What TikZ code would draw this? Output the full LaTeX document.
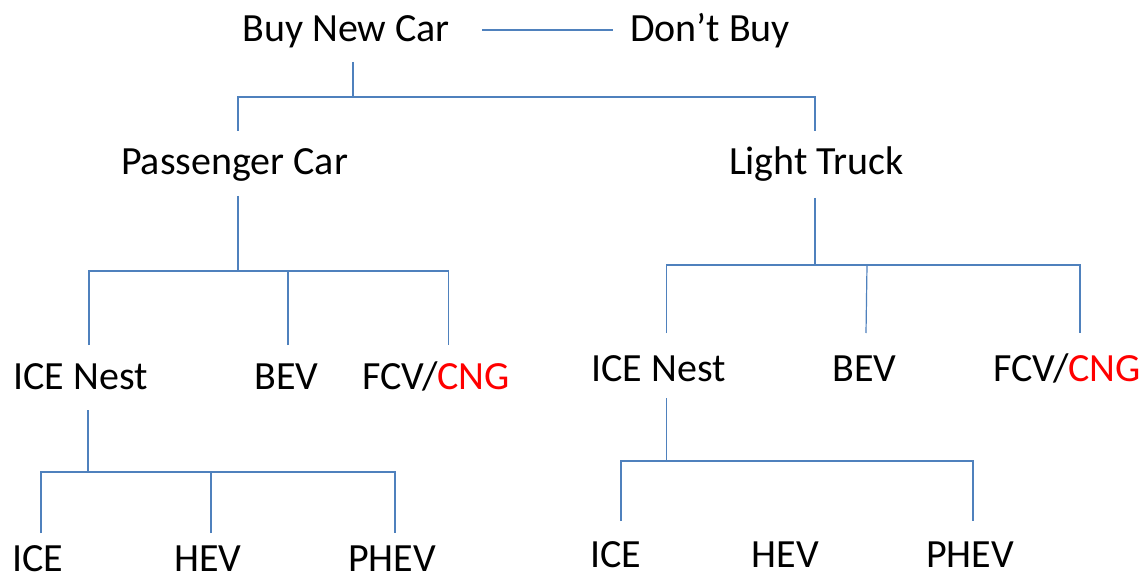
\documentclass[tikz,border=0pt]{standalone}
\usepackage{fontspec}
\setmainfont{Carlito}
\definecolor{linkblue}{HTML}{4F81BD}
\definecolor{cngred}{HTML}{FF0000}
\begin{document}
\begin{tikzpicture}[x=1pt,y=-1pt,
  lbl/.style={inner sep=0pt,anchor=base,font=\fontsize{40}{48}\selectfont},
  link/.style={draw=linkblue,line width=1.2pt}]
\useasboundingbox[fill=white] (0,0) rectangle (1142,577);
% nodes
\node[lbl] (bnc) at (346,42) {Buy New Car};
\node[lbl] (db)  at (710,42) {Don’t Buy};
\node[lbl] (pc)  at (234.5,175) {Passenger Car};
\node[lbl] (lt)  at (816.5,175) {Light Truck};
\node[lbl] (pice) at (80.5,389) {ICE Nest};
\node[lbl] (pbev) at (286.5,389) {BEV};
\node[lbl] (pfcv) at (436,389) {FCV/\textcolor{cngred}{CNG}};
\node[lbl] (tice) at (658.5,381) {ICE Nest};
\node[lbl] (tbev) at (864.5,381) {BEV};
\node[lbl] (tfcv) at (1067,381) {FCV/\textcolor{cngred}{CNG}};
\node[lbl] (pi) at (37.75,571) {ICE};
\node[lbl] (ph) at (208,571) {HEV};
\node[lbl] (pp) at (392,571) {PHEV};
\node[lbl] (ti) at (616,567) {ICE};
\node[lbl] (th) at (785.5,567) {HEV};
\node[lbl] (tp) at (970,567) {PHEV};
% connector ends
\coordinate (bncR) at (482,30);
\coordinate (dbL)  at (613,30);
\coordinate (bncS) at (353,62);
\coordinate (bar0) at (353,97);
\coordinate (pcN) at (238,131);
\coordinate (ltN) at (815,131);
\coordinate (pcS) at (238,196);
\coordinate (bar1) at (238,271);
\coordinate (piceN) at (89,345);
\coordinate (pbevN) at (288,345);
\coordinate (pfcvN) at (448.5,345);
\coordinate (ltS) at (815,198);
\coordinate (bar2) at (815,265);
\coordinate (ticeN) at (666.5,333);
\coordinate (tbevN) at (866,333);
\coordinate (tfcvN) at (1080,333);
\coordinate (piceS) at (88,410);
\coordinate (bar3) at (88,472);
\coordinate (piN) at (41,533);
\coordinate (phN) at (211,533);
\coordinate (ppN) at (395,533);
\coordinate (ticeS) at (666.5,398);
\coordinate (bar4) at (666.5,461);
\coordinate (tiN) at (621,521);
\coordinate (tpN) at (973,521);
% connectors
\draw[link] (bncR) -- (dbL);
\draw[link] (bncS) -- (bar0);
\draw[link] (pcN) |- (bar0) -| (ltN);
\draw[link] (pcS) -- (bar1);
\draw[link] (piceN) |- (bar1) -| (pfcvN);
\draw[link] (pbevN) -- (pbevN |- bar1);
\draw[link] (ltS) -- (bar2);
\draw[link] (ticeN) |- (bar2) -| (tfcvN);
\draw[link] (tbevN) -- (867,265);
\draw[link] (piceS) -- (bar3);
\draw[link] (piN) |- (bar3) -| (ppN);
\draw[link] (phN) -- (phN |- bar3);
\draw[link] (ticeS) -- (bar4);
\draw[link] (tiN) |- (bar4) -| (tpN);
\end{tikzpicture}
\end{document}
